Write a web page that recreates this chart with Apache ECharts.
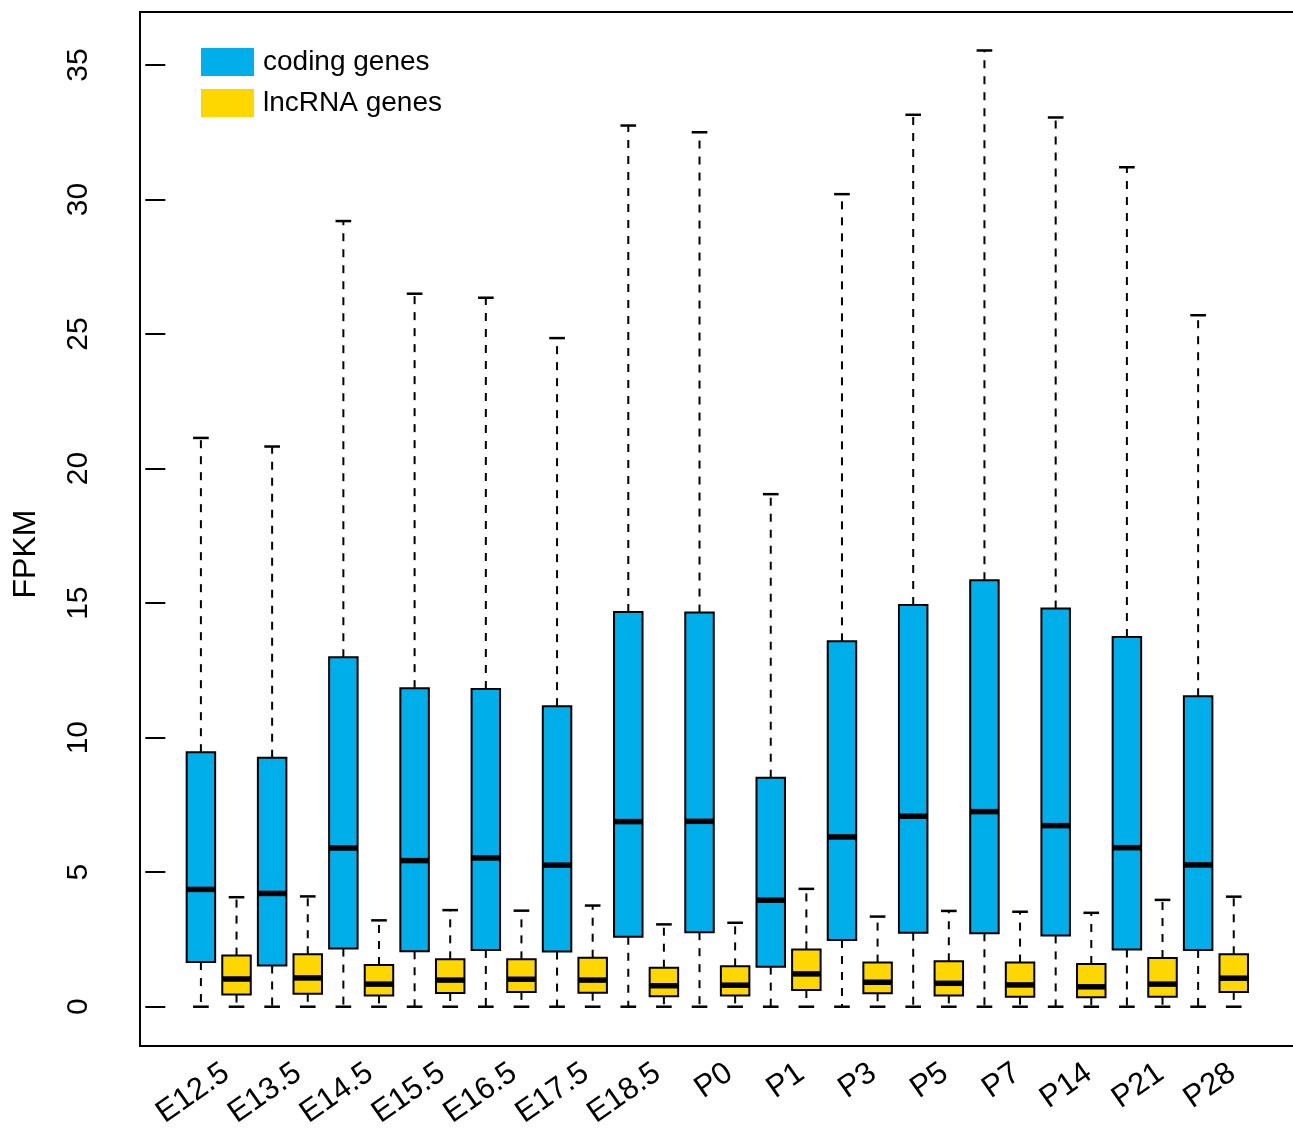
<!DOCTYPE html>
<html><head><meta charset="utf-8">
<script src="https://cdn.jsdelivr.net/npm/echarts@6/dist/echarts.min.js"></script>
<style>html,body{margin:0;padding:0;background:#fff;overflow:hidden}#c{width:1310px;height:1132px}</style>
</head><body><div id="c"></div>
<script>
const categories = ['E12.5','E13.5','E14.5','E15.5','E16.5','E17.5','E18.5','P0','P1','P3','P5','P7','P14','P21','P28'];
const seriesNames = ['coding genes','lncRNA genes'];

// coding genes: lower whisker, Q1, median, Q3, upper whisker
const codingMin    = [0,0,0,0,0,0,0,0,0,0,0,0,0,0,0];
const codingQ1     = [1.66,1.53,2.16,2.06,2.11,2.05,2.60,2.77,1.49,2.48,2.75,2.73,2.65,2.13,2.11];
const codingMedian = [4.36,4.21,5.90,5.43,5.53,5.26,6.88,6.89,3.96,6.31,7.08,7.25,6.73,5.91,5.27];
const codingQ3     = [9.46,9.25,12.99,11.84,11.81,11.17,14.67,14.65,8.51,13.58,14.93,15.85,14.80,13.74,11.54];
const codingMax    = [21.14,20.82,29.20,26.50,26.35,24.85,32.75,32.50,19.05,30.20,33.15,35.54,33.05,31.20,25.70];

// lncRNA genes
const lncMin    = [0,0,0,0,0,0,0,0,0,0,0,0,0,0,0];
const lncQ1     = [0.45,0.48,0.42,0.51,0.55,0.52,0.39,0.42,0.62,0.50,0.42,0.37,0.35,0.37,0.55];
const lncMedian = [1.03,1.07,0.84,0.99,1.02,0.99,0.78,0.80,1.22,0.91,0.87,0.81,0.74,0.84,1.06];
const lncQ3     = [1.90,1.95,1.55,1.76,1.76,1.82,1.45,1.50,2.13,1.64,1.69,1.64,1.59,1.81,1.95];
const lncMax    = [4.07,4.10,3.21,3.59,3.57,3.76,3.06,3.12,4.38,3.35,3.56,3.53,3.49,3.97,4.09];

const yTicks = [0,5,10,15,20,25,30,35];

const FONT = 'Liberation Sans, Arial, Helvetica, sans-serif';
const BLUE = '#00AFEA';
const GOLD = '#FFD700';
const LABEL_START = 1.714, LABEL_STEP = 2.018;

const codingData = categories.map((c, i) => [2*i+1, codingMin[i], codingQ1[i], codingMedian[i], codingQ3[i], codingMax[i]]);
const lncData = categories.map((c, i) => [2*i+2, lncMin[i], lncQ1[i], lncMedian[i], lncQ3[i], lncMax[i]]);
const labelPositions = categories.map((c, i) => LABEL_START + LABEL_STEP * i);

function renderBox(params, api) {
  const x = api.value(0), lo = api.value(1), q1 = api.value(2), med = api.value(3), q3 = api.value(4), hi = api.value(5);
  const halfW = 0.4, capHalf = 0.22;
  const pLo = api.coord([x, lo]), pQ1 = api.coord([x, q1]), pMed = api.coord([x, med]),
        pQ3 = api.coord([x, q3]), pHi = api.coord([x, hi]);
  const left = api.coord([x - halfW, q3])[0], right = api.coord([x + halfW, q3])[0];
  const capL = api.coord([x - capHalf, 0])[0], capR = api.coord([x + capHalf, 0])[0];
  const k = '#000';
  return {
    type: 'group',
    children: [
      {type: 'line', shape: {x1: pQ3[0], y1: pQ3[1], x2: pHi[0], y2: pHi[1]}, style: {stroke: k, lineWidth: 2, lineDash: [8, 8]}},
      {type: 'line', shape: {x1: pQ1[0], y1: pQ1[1], x2: pLo[0], y2: pLo[1]}, style: {stroke: k, lineWidth: 2, lineDash: [8, 8]}},
      {type: 'line', shape: {x1: capL, y1: pHi[1], x2: capR, y2: pHi[1]}, style: {stroke: k, lineWidth: 2.5}},
      {type: 'line', shape: {x1: capL, y1: pLo[1], x2: capR, y2: pLo[1]}, style: {stroke: k, lineWidth: 2.5}},
      {type: 'rect', shape: {x: left, y: pQ3[1], width: right - left, height: pQ1[1] - pQ3[1]},
       style: {fill: api.visual('color'), stroke: k, lineWidth: 2}},
      {type: 'line', shape: {x1: left, y1: pMed[1], x2: right, y2: pMed[1]}, style: {stroke: k, lineWidth: 5.5}}
    ]
  };
}

const chart = echarts.init(document.getElementById('c'), null, {renderer: 'canvas'});
chart.setOption({
  animation: false,
  backgroundColor: '#fff',
  grid: {left: 140, top: 12, width: 1155, height: 1034, show: true, borderColor: '#000', borderWidth: 2,
         backgroundColor: 'transparent', containLabel: false, outerBoundsMode: 'none'},
  legend: {
    orient: 'vertical', left: 196, top: 43, itemWidth: 53, itemHeight: 28, itemGap: 13,
    icon: 'rect', selectedMode: false, data: seriesNames,
    itemStyle: {borderWidth: 0},
    textStyle: {fontSize: 28, color: '#000', fontFamily: FONT, padding: [0, 0, 0, 4]}
  },
  xAxis: {
    type: 'value', min: -0.71, max: 31.72,
    axisLine: {show: false}, axisTick: {show: false}, splitLine: {show: false},
    axisLabel: {
      customValues: labelPositions,
      formatter: v => categories[Math.round((v - LABEL_START) / LABEL_STEP)],
      rotate: 35, margin: 24, fontSize: 31, color: '#000', fontFamily: FONT
    }
  },
  yAxis: {
    type: 'value', min: -1.46, max: 36.97,
    axisLine: {show: false}, splitLine: {show: false},
    axisTick: {show: true, customValues: yTicks, length: 20, lineStyle: {color: '#000', width: 2}},
    axisLabel: {customValues: yTicks, rotate: 90, margin: 46, fontSize: 30, color: '#000', fontFamily: FONT}
  },
  graphic: [{
    type: 'text', x: 26, y: 554, rotation: Math.PI / 2,
    style: {text: 'FPKM', font: '32px ' + FONT, fill: '#000', align: 'center', verticalAlign: 'middle'}
  }],
  series: [
    {type: 'custom', name: seriesNames[0], renderItem: renderBox, data: codingData,
     itemStyle: {color: BLUE}, encode: {x: 0, y: [1, 2, 3, 4, 5]}},
    {type: 'custom', name: seriesNames[1], renderItem: renderBox, data: lncData,
     itemStyle: {color: GOLD}, encode: {x: 0, y: [1, 2, 3, 4, 5]}}
  ]
});
</script>
</body></html>
